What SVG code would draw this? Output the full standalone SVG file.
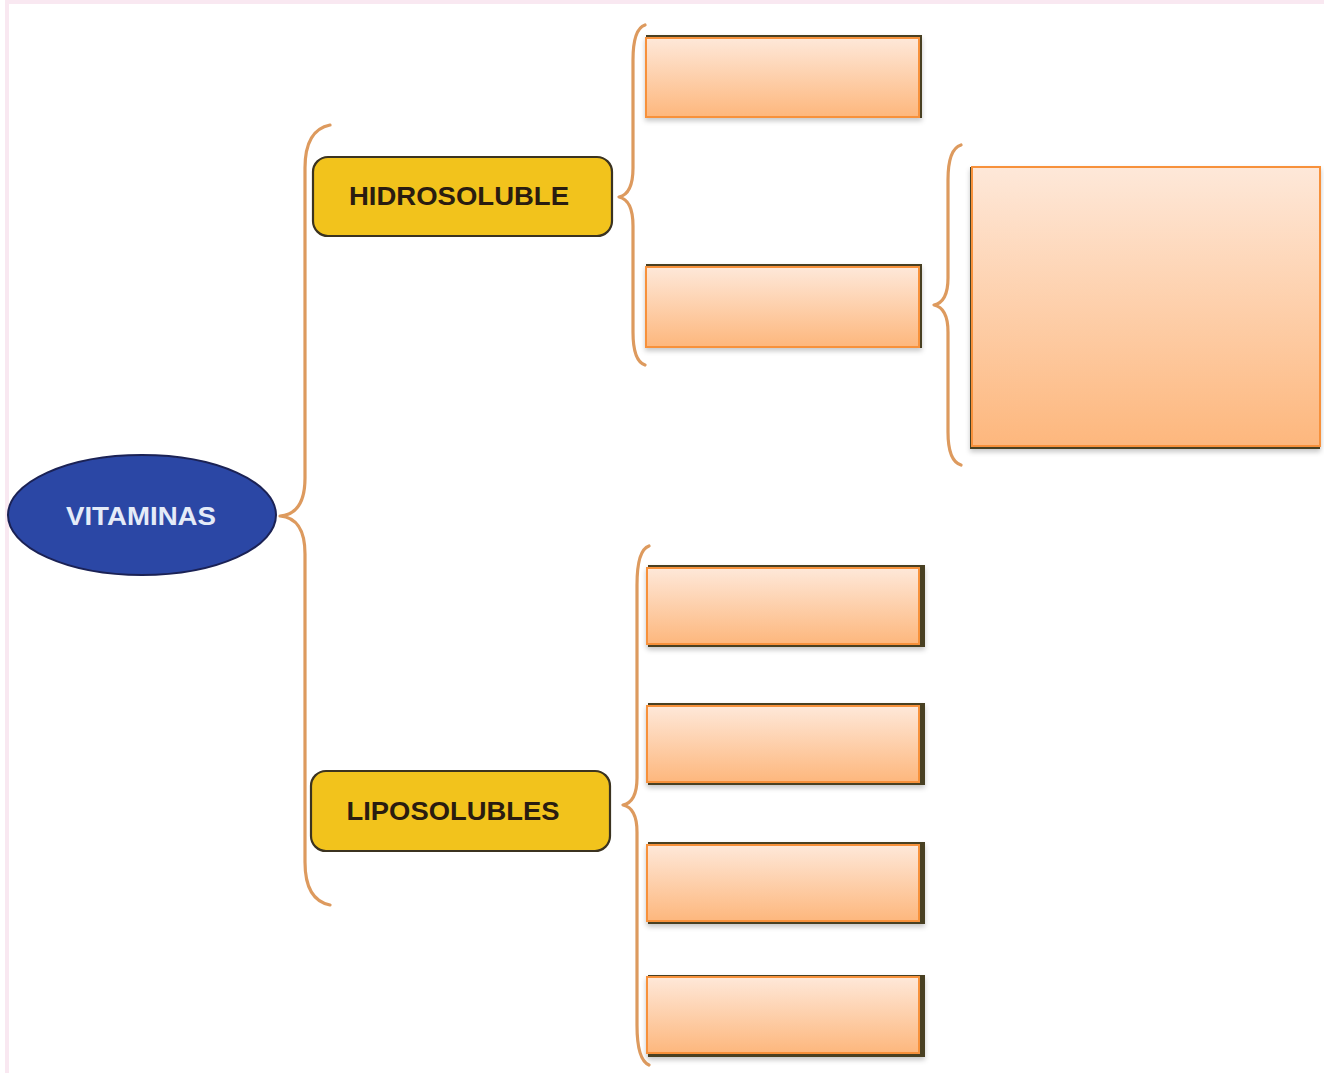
<svg xmlns="http://www.w3.org/2000/svg" width="1324" height="1073" viewBox="0 0 1324 1073">
  <style>
    .brace { fill: none; stroke: #dd9a5e; stroke-width: 3.2; stroke-linecap: round; stroke-linejoin: round; }
    .cat { fill: #f2c31c; stroke: #3b3320; stroke-width: 2.2; }
    .cat-label { font-family: "Liberation Sans", Arial, sans-serif; font-weight: bold; font-size: 26px; fill: #2a1c10; text-anchor: middle; }
    .root-label { font-family: "Liberation Sans", Arial, sans-serif; font-weight: bold; font-size: 26px; fill: #e4ebf8; text-anchor: middle; }
    .edge { fill: #4a4020; }
    .slot { fill: url(#peach); stroke: #f7913a; stroke-width: 2; }
  </style>
  <defs>
    <linearGradient id="peach" x1="0" y1="0" x2="0" y2="1">
      <stop offset="0" stop-color="#fee8d9"/>
      <stop offset="1" stop-color="#fdb77d"/>
    </linearGradient>
    <filter id="soft" x="-10%" y="-10%" width="120%" height="130%">
      <feDropShadow dx="0" dy="3" stdDeviation="2.5" flood-color="#000" flood-opacity="0.22"/>
    </filter>
  </defs>

  <!-- page frame -->
  <rect x="0" y="0" width="1324" height="1073" fill="#ffffff"/>
  <rect x="5" y="0" width="1319" height="4" fill="#f9e8f1"/>
  <rect x="5" y="0" width="4" height="1073" fill="#f9e8f1"/>

  <!-- braces -->
  <g id="connectors">
    <path class="brace" d="M330 125 Q305 130 305 168 L305 478 Q305 514 280 516 Q305 518 305 554 L305 862 Q305 900 330 905"/>
    <path class="brace" d="M645 25 Q633 29 633 60 L633 168 Q633 194 619 197 Q633 200 633 226 L633 332 Q633 361 645 365"/>
    <path class="brace" d="M961 145 Q948 149 948 180 L948 278 Q948 302 934 305 Q948 308 948 332 L948 432 Q948 461 961 465"/>
    <path class="brace" d="M649 546 Q637 550 637 585 L637 778 Q637 802 623 805 Q637 808 637 832 L637 1025 Q637 1060 649 1065"/>
  </g>

  <!-- root -->
  <g id="vitaminas">
    <ellipse cx="142" cy="515" rx="134" ry="60" fill="#2b47a5" stroke="#1b2255" stroke-width="2"/>
    <text class="root-label" x="141" y="525" textLength="150" lengthAdjust="spacingAndGlyphs">VITAMINAS</text>
  </g>

  <!-- categories -->
  <g id="hidrosoluble">
    <rect class="cat" x="313" y="157" width="299" height="79" rx="15"/>
    <text class="cat-label" x="459" y="205" textLength="220" lengthAdjust="spacingAndGlyphs">HIDROSOLUBLE</text>
  </g>
  <g id="liposolubles">
    <rect class="cat" x="311" y="771" width="299" height="80" rx="15"/>
    <text class="cat-label" x="453" y="820" textLength="213" lengthAdjust="spacingAndGlyphs">LIPOSOLUBLES</text>
  </g>

  <!-- blank answer boxes -->
  <g id="hidro-box-1" filter="url(#soft)">
    <rect class="edge" x="646" y="35" width="276" height="83"/>
    <rect class="slot" x="646" y="38" width="273" height="79"/>
  </g>
  <g id="hidro-box-2" filter="url(#soft)">
    <rect class="edge" x="646" y="264" width="276" height="84"/>
    <rect class="slot" x="646" y="267" width="273" height="80"/>
  </g>
  <g id="detail-box" filter="url(#soft)">
    <rect class="edge" x="970" y="167" width="350" height="282"/>
    <rect class="slot" x="972" y="167" width="348" height="279"/>
  </g>
  <g id="lipo-box-1" filter="url(#soft)">
    <rect class="edge" x="648" y="565" width="277" height="82"/>
    <rect class="slot" x="647" y="568" width="272" height="76"/>
  </g>
  <g id="lipo-box-2" filter="url(#soft)">
    <rect class="edge" x="648" y="703" width="277" height="82"/>
    <rect class="slot" x="647" y="706" width="272" height="76"/>
  </g>
  <g id="lipo-box-3" filter="url(#soft)">
    <rect class="edge" x="648" y="842" width="277" height="82"/>
    <rect class="slot" x="647" y="845" width="272" height="76"/>
  </g>
  <g id="lipo-box-4" filter="url(#soft)">
    <rect class="edge" x="648" y="975" width="277" height="82"/>
    <rect class="slot" x="647" y="977" width="272" height="76"/>
  </g>
</svg>
